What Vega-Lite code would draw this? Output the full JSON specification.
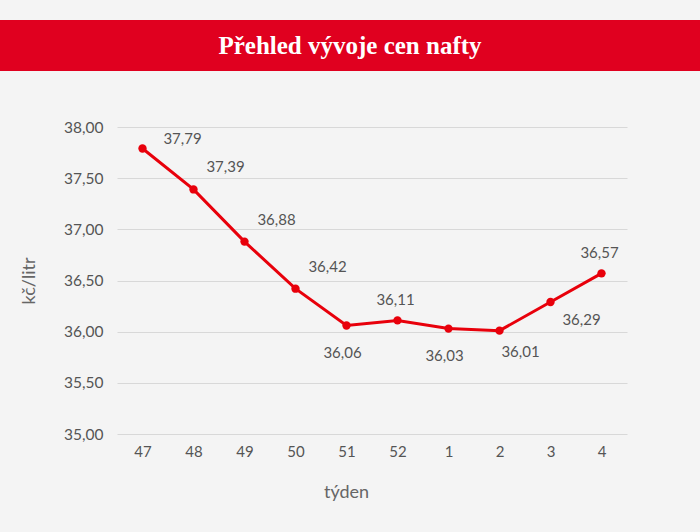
{
  "$schema": "https://vega.github.io/schema/vega-lite/v6.json",
  "background": "#f4f4f4",
  "padding": {"top": 20, "bottom": 32, "left": 0, "right": 0},
  "bounds": "flush",
  "center": true,
  "spacing": 56,
  "config": {
    "view": {"stroke": null},
    "font": "Lato",
    "locale": {"number": {"decimal": ",", "thousands": " ", "grouping": [3], "currency": ["", " Kč"]}}
  },
  "vconcat": [
    {
      "width": 744,
      "height": 51,
      "view": {"fill": "#e0001f", "stroke": null},
      "data": {"values": [{"nadpis": "Přehled vývoje cen nafty"}]},
      "mark": {"type": "text", "font": "Liberation Serif", "fontWeight": "bold", "fontSize": 25, "color": "white", "dx": -22, "baseline": "middle"},
      "encoding": {"text": {"field": "nadpis"}}
    },
    {
      "width": 510,
      "height": 307,
      "data": {
        "values": [
          {"tyden": "47", "cena": 37.79},
          {"tyden": "48", "cena": 37.39},
          {"tyden": "49", "cena": 36.88},
          {"tyden": "50", "cena": 36.42},
          {"tyden": "51", "cena": 36.06},
          {"tyden": "52", "cena": 36.11},
          {"tyden": "1", "cena": 36.03},
          {"tyden": "2", "cena": 36.01},
          {"tyden": "3", "cena": 36.29},
          {"tyden": "4", "cena": 36.57}
        ]
      },
      "encoding": {
        "x": {
          "field": "tyden",
          "type": "ordinal",
          "sort": null,
          "scale": {"type": "point", "padding": 0.5},
          "axis": {
            "title": "týden",
            "labelAngle": 0,
            "labelFontSize": 15,
            "labelColor": "#555555",
            "labelPadding": 10,
            "titleFontSize": 18,
            "titleFontWeight": "normal",
            "titleColor": "#666666",
            "titleX": 229,
            "titlePadding": 24,
            "ticks": false,
            "domain": false,
            "grid": false
          }
        },
        "y": {
          "field": "cena",
          "type": "quantitative",
          "scale": {"domain": [35, 38], "zero": false, "nice": false},
          "axis": {
            "title": "kč/litr",
            "values": [35, 35.5, 36, 36.5, 37, 37.5, 38],
            "format": ".2f",
            "labelFontSize": 15.5,
            "labelColor": "#555555",
            "labelPadding": 14,
            "titleFontSize": 18,
            "titleFontWeight": "normal",
            "titleColor": "#666666",
            "titlePadding": 25,
            "ticks": false,
            "domain": false,
            "gridColor": "#d8d8d8",
            "gridWidth": 1
          }
        }
      },
      "layer": [
        {"mark": {"type": "line", "color": "#e8000b", "strokeWidth": 3}},
        {"mark": {"type": "point", "filled": true, "color": "#e8000b", "size": 70, "opacity": 1}},
        {
          "transform": [{"filter": {"field": "tyden", "oneOf": ["47"]}}],
          "mark": {"type": "text", "fontSize": 15, "color": "#555555", "dx": 40, "dy": -9},
          "encoding": {"text": {"field": "cena", "type": "quantitative", "format": ".2f"}}
        },
        {
          "transform": [{"filter": {"field": "tyden", "oneOf": ["48", "49", "50"]}}],
          "mark": {"type": "text", "fontSize": 15, "color": "#555555", "dx": 32, "dy": -22},
          "encoding": {"text": {"field": "cena", "type": "quantitative", "format": ".2f"}}
        },
        {
          "transform": [{"filter": {"field": "tyden", "oneOf": ["51", "1"]}}],
          "mark": {"type": "text", "fontSize": 15, "color": "#555555", "dx": -4, "dy": 27},
          "encoding": {"text": {"field": "cena", "type": "quantitative", "format": ".2f"}}
        },
        {
          "transform": [{"filter": {"field": "tyden", "oneOf": ["52", "4"]}}],
          "mark": {"type": "text", "fontSize": 15, "color": "#555555", "dx": -2, "dy": -20},
          "encoding": {"text": {"field": "cena", "type": "quantitative", "format": ".2f"}}
        },
        {
          "transform": [{"filter": {"field": "tyden", "oneOf": ["2"]}}],
          "mark": {"type": "text", "fontSize": 15, "color": "#555555", "dx": 21, "dy": 21},
          "encoding": {"text": {"field": "cena", "type": "quantitative", "format": ".2f"}}
        },
        {
          "transform": [{"filter": {"field": "tyden", "oneOf": ["3"]}}],
          "mark": {"type": "text", "fontSize": 15, "color": "#555555", "dx": 31, "dy": 18},
          "encoding": {"text": {"field": "cena", "type": "quantitative", "format": ".2f"}}
        }
      ]
    }
  ]
}
